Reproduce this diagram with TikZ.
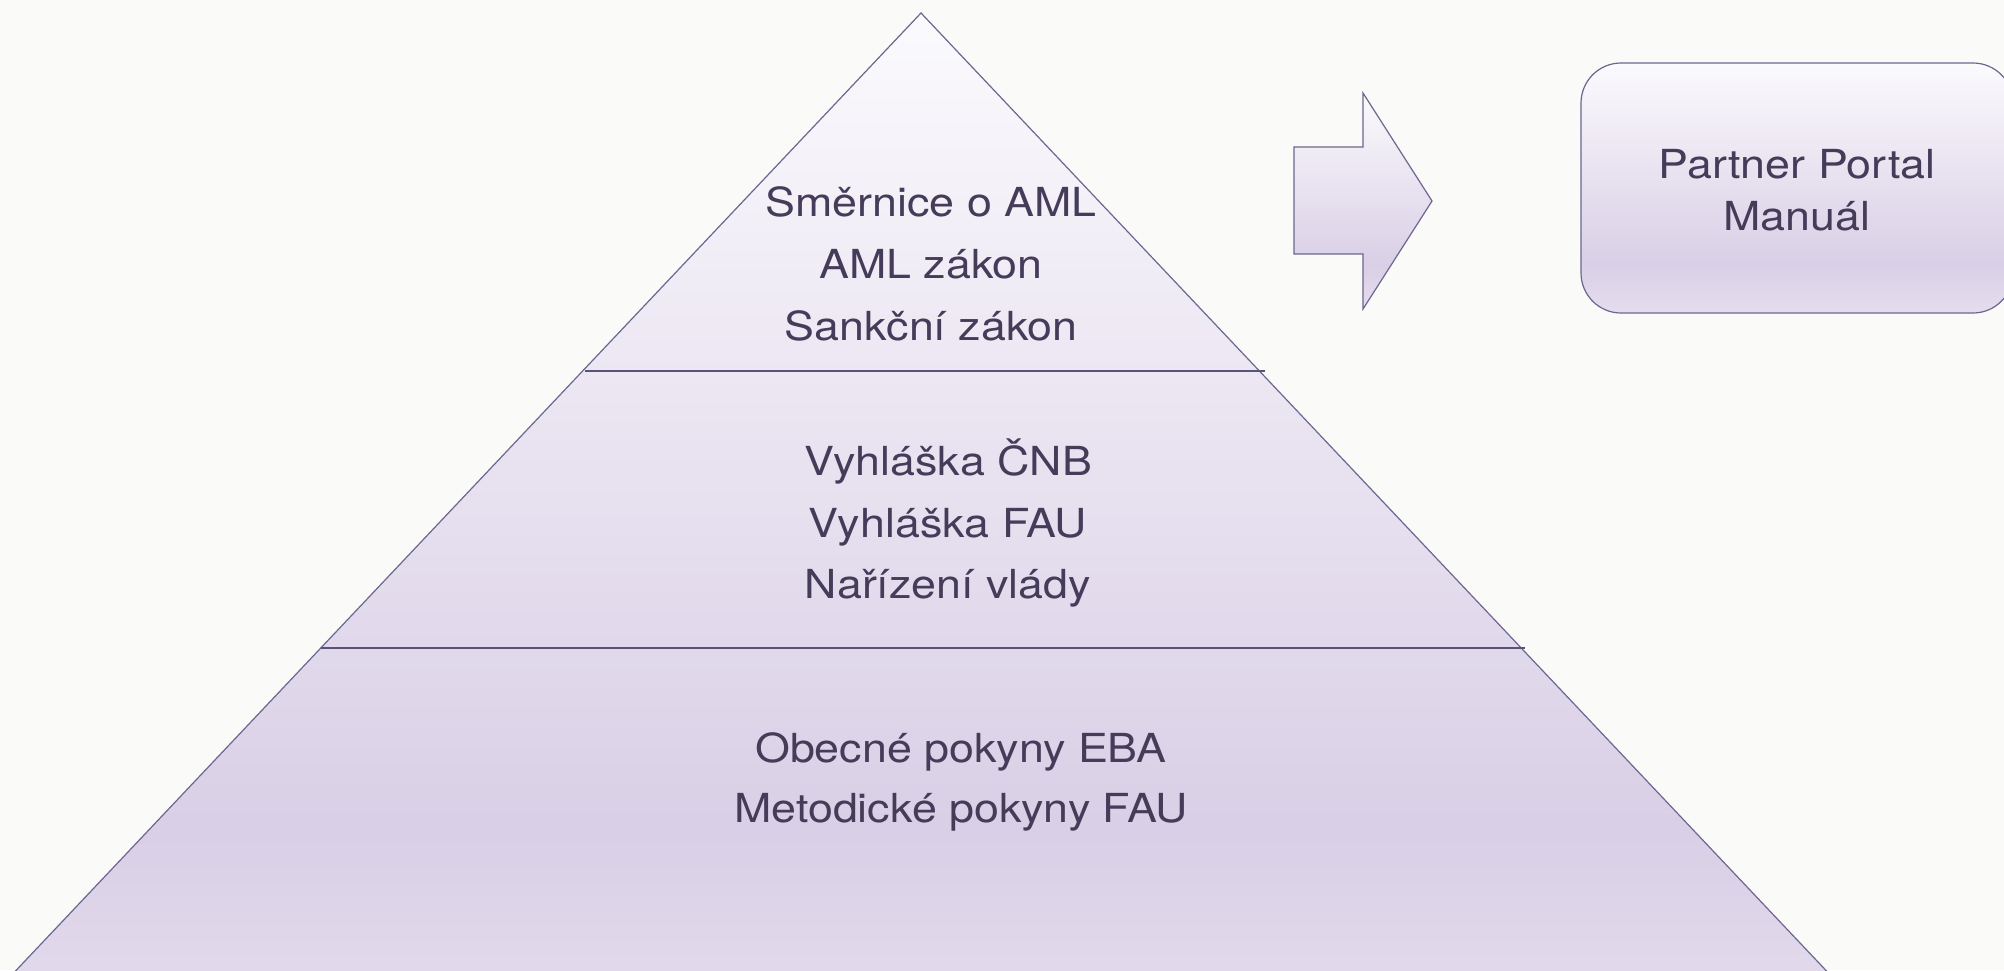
\documentclass[tikz,border=0pt]{standalone}
\usepackage{fontspec}
\setmainfont{TeX Gyre Heros}[FakeStretch=1.12]
\definecolor{bg}{HTML}{FAFAF8}
\definecolor{edge}{HTML}{6C6690}
\definecolor{sepc}{HTML}{5A5378}
\definecolor{txt}{HTML}{453C5A}
\definecolor{gtop}{HTML}{FBFAFD}
\definecolor{gmid}{HTML}{D9CFE6}
\definecolor{gbot}{HTML}{E5DDEE}
\pgfdeclareverticalshading{lav}{100bp}{color(0bp)=(gbot); color(25bp)=(gbot); color(35bp)=(gmid); color(75bp)=(gtop); color(100bp)=(gtop)}
\tikzset{
  shapefill/.style={shading=lav, draw=edge, line width=1.2pt, line join=miter},
  sepline/.style={draw=sepc, line width=1.3pt},
  lbl/.style={text=txt, anchor=base, inner sep=0pt, font=\fontsize{40}{52}\selectfont}
}
\begin{document}
\begin{tikzpicture}[x=1pt,y=-1pt]
\useasboundingbox (0,0) rectangle (2004,970);
\fill[bg] (0,0) rectangle (2004,970);
\clip (0,0) rectangle (2004,970);
% pyramid
\draw[shapefill] (921,13) -- (1887,1035) -- (-45,1035) -- cycle;
\draw[sepline] (585,371) -- (1265,371);
\draw[sepline] (321,648) -- (1525,648);
% arrow
\draw[shapefill] (1294,147) -- (1363,147) -- (1363,93) -- (1432,201) -- (1363,309) -- (1363,254) -- (1294,254) -- cycle;
% box
\draw[shapefill, rounded corners=40pt] (1581,63) rectangle (2013,313);
\node[lbl] (pp1) at (1797,178) {Partner Portal};
\node[lbl] (pp2) at (1797,230) {Manuál};
% tier texts
\node[lbl] (t1) at (931,216.7) {Směrnice o AML};
\node[lbl] (t2) at (931,278) {AML zákon};
\node[lbl] (t3) at (931,340) {Sankční zákon};
\node[lbl] (m1) at (948,475) {Vyhláška ČNB};
\node[lbl] (m2) at (948,537) {Vyhláška FAU};
\node[lbl] (m3) at (948,598) {Nařízení vlády};
\node[lbl] (b1) at (961,762) {Obecné pokyny EBA};
\node[lbl] (b2) at (961,822) {Metodické pokyny FAU};
\end{tikzpicture}
\end{document}
